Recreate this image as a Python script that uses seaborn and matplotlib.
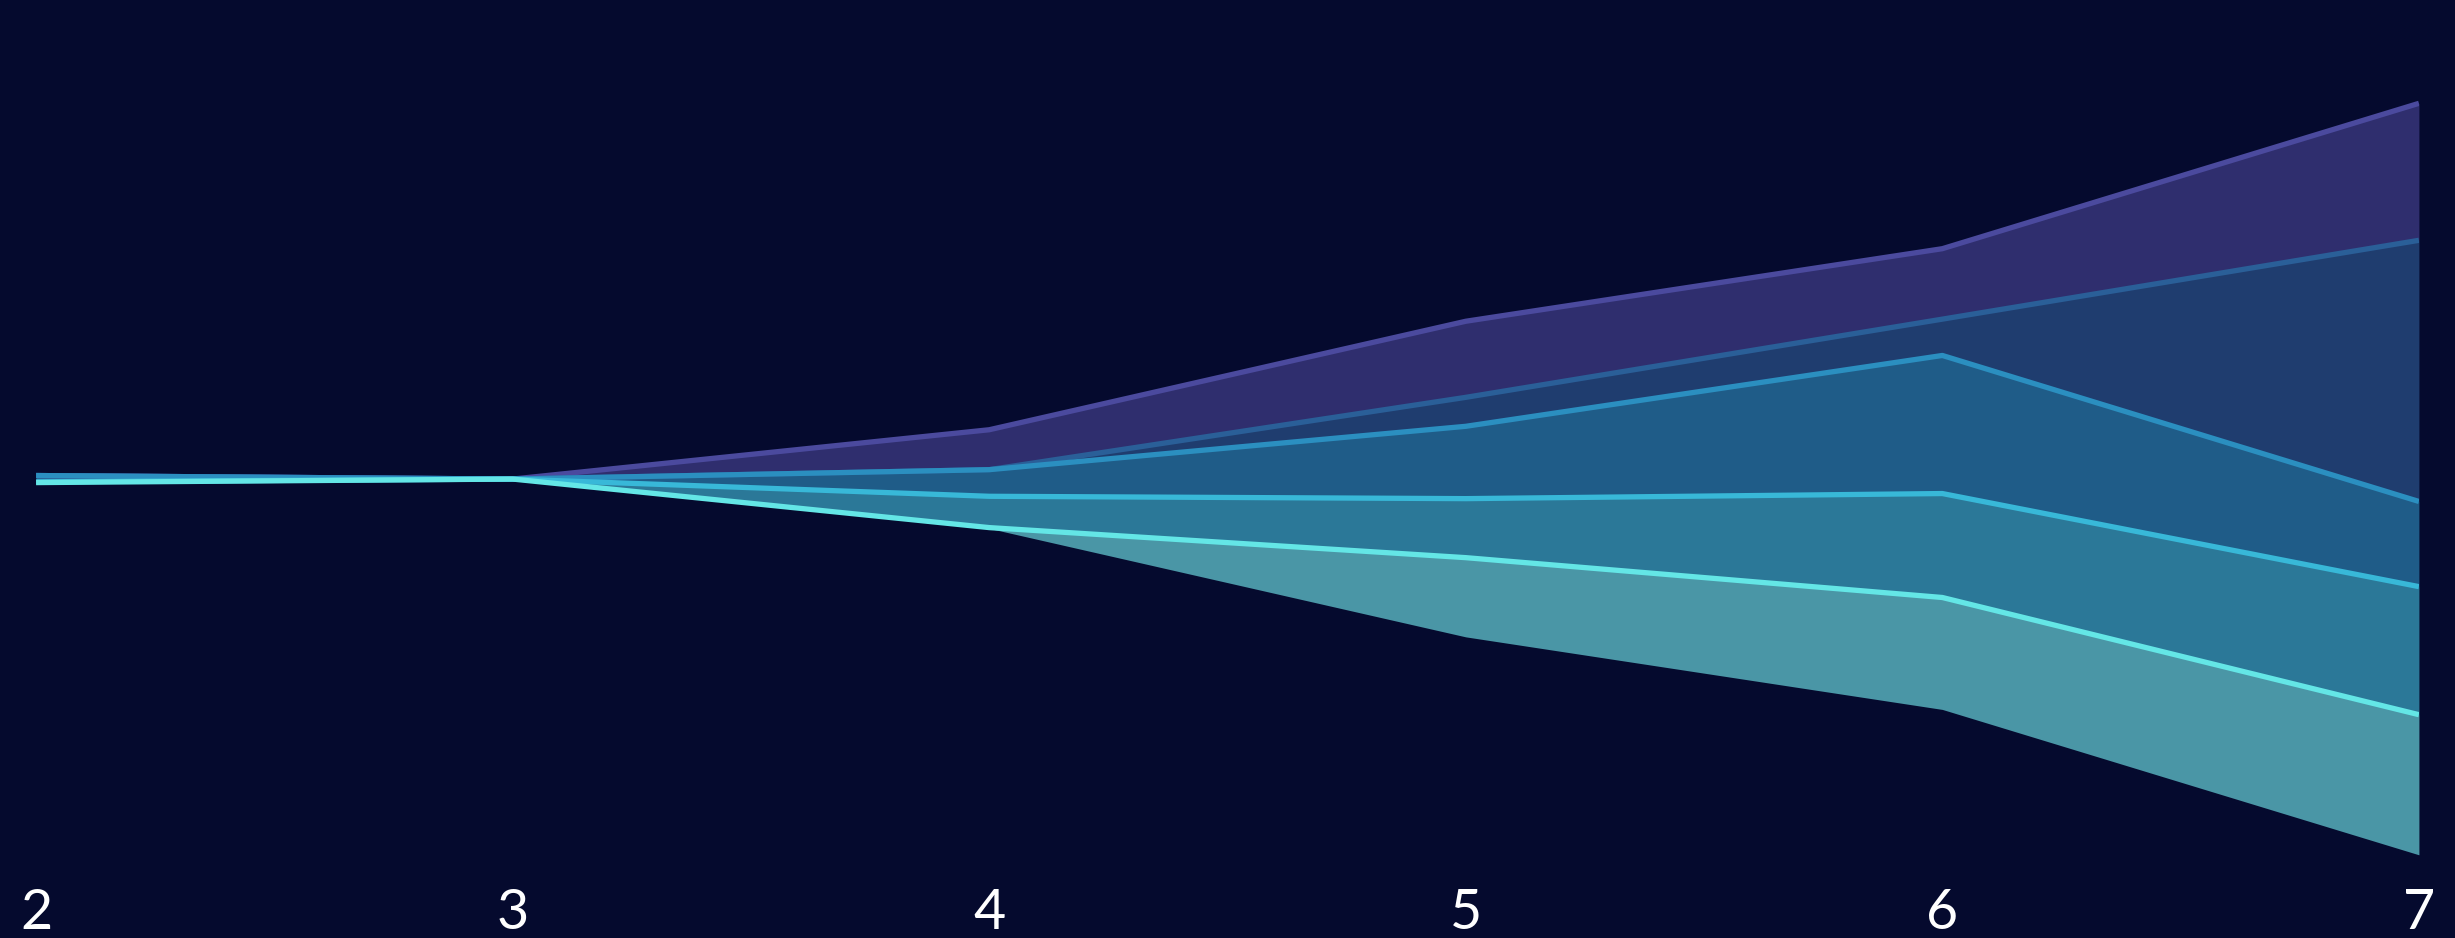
"""Symmetric streamgraph of five layers on a dark navy background."""

import matplotlib.pyplot as plt
import numpy as np
import pandas as pd
import seaborn as sns

# data: layer thickness per x, listed from the top layer down to the bottom one
years = [2, 3, 4, 5, 6, 7]
purple = [0, 0, 25.5, 48.6, 45, 87.5]
dark_blue = [0, 0, 0, 18.5, 23.2, 166.8]
blue = [4, 0, 17, 46.2, 88.2, 54.4]
teal = [0.5, 0, 20, 37.7, 66.4, 81.8]
light_teal = [0, 0, 0.5, 50.6, 71.5, 89.5]

layer_names = ["purple", "dark_blue", "blue", "teal", "light_teal"]
layer_values = [purple, dark_blue, blue, teal, light_teal]

BG = "#050a2e"
FILL_COLORS = ["#2f2e6e", "#1f3d6f", "#1f5c88", "#2b7898", "#4a96a6"]
LINE_COLORS = ["#4b4a9e", "#2a5f98", "#2b8fc0", "#38b8d8", "#64e6e6"]

sns.set_style("dark")
plt.rcParams["font.family"] = ["Lato", "DejaVu Sans"]

df = pd.DataFrame({"x": years})
for name, vals in zip(layer_names, layer_values):
    df[name] = vals

# symmetric baseline: stack from the bottom layer upwards, centred on zero
stack = df[layer_names[::-1]].to_numpy(dtype=float)
total = stack.sum(axis=1)
lower = -total / 2
bounds = [lower]
for i in range(stack.shape[1]):
    bounds.append(bounds[-1] + stack[:, i])
# bounds[k] is the bottom of layer k (bottom-first order), bounds[k+1] its top

fig = plt.figure(figsize=(24.55, 9.38), dpi=100, facecolor=BG)
ax = fig.add_axes([0.0147, 0.067, 0.9706, 0.933])
ax.set_facecolor(BG)

n = len(layer_names)
for k in range(n):
    idx = n - 1 - k  # index into top-first lists
    ax.fill_between(df["x"], bounds[k], bounds[k + 1],
                    color=FILL_COLORS[idx], linewidth=0)

# top edges, drawn top layer first so lower lines sit on top
for idx in range(n):
    k = n - 1 - idx
    sns.lineplot(x=df["x"], y=bounds[k + 1], ax=ax, color=LINE_COLORS[idx],
                 linewidth=3.8, solid_capstyle="butt")

ax.set_xlim(2, 7)
ax.set_ylim(-253, 306)
ax.set_xticks(years)
ax.set_xticklabels([str(y) for y in years])
ax.set_yticks([])
ax.set_xlabel("")
ax.set_ylabel("")
ax.grid(False)
for s in ax.spines.values():
    s.set_visible(False)
ax.tick_params(axis="x", length=0, pad=9, labelsize=40, labelcolor="white")

fig.savefig("out.png", dpi=100, facecolor=BG)
plt.close(fig)
